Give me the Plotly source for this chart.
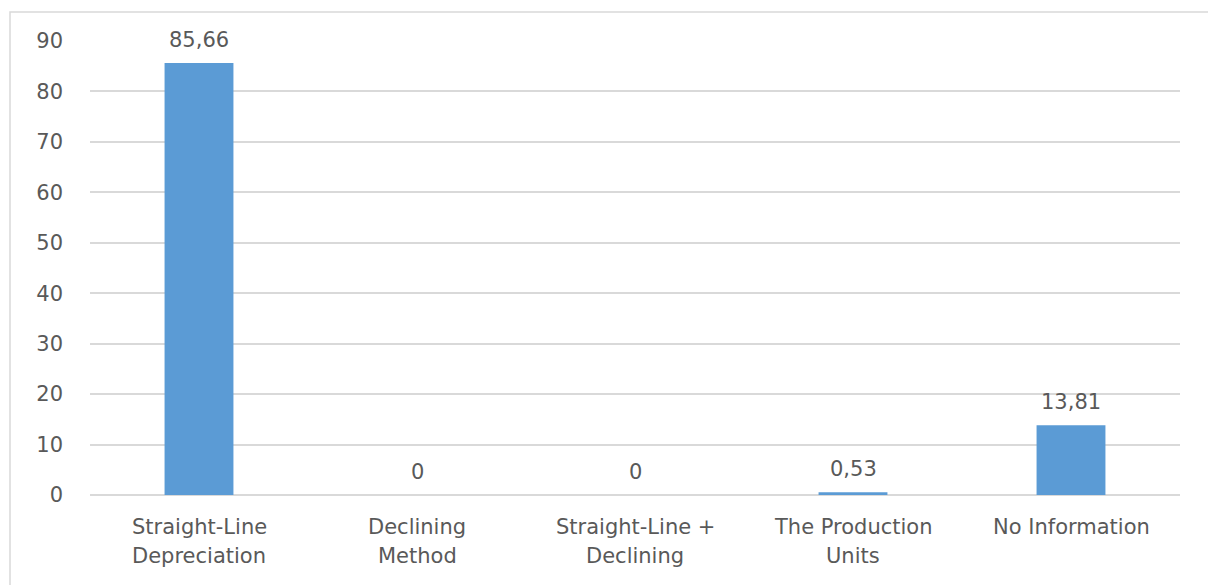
import plotly.graph_objects as go

categories = ["Straight-Line<br>Depreciation", "Declining<br>Method", "Straight-Line +<br>Declining",
              "The Production<br>Units", "No Information"]
values = [85.66, 0, 0, 0.53, 13.81]
value_labels = ["85,66", "0", "0", "0,53", "13,81"]
y_ticks = [0, 10, 20, 30, 40, 50, 60, 70, 80, 90]

text_color = "#595959"
grid_color = "#D9D9D9"
bar_color = "#5B9BD5"
font_family = "DejaVu Sans"
font_size = 21

fig = go.Figure(go.Bar(
    x=categories,
    y=values,
    marker=dict(color=bar_color, line=dict(width=0)),
    width=0.316,
    cliponaxis=False,
))

# value labels placed above each bar
for cat, val, lab in zip(categories, values, value_labels):
    fig.add_annotation(
        x=cat, y=val, text=lab, showarrow=False,
        xanchor="center", yanchor="bottom", yshift=9,
        font=dict(family=font_family, size=font_size, color=text_color),
    )

# category labels, one annotation per line for wider line spacing
for cat in categories:
    for i, line in enumerate(cat.split("<br>")):
        fig.add_annotation(
            x=cat, y=0, text=line, showarrow=False,
            xanchor="center", yanchor="middle", yshift=-32 - 29 * i,
            font=dict(family=font_family, size=font_size, color=text_color),
        )

fig.update_layout(
    width=1208,
    height=585,
    margin=dict(l=90, r=28, t=41, b=90),
    paper_bgcolor="white",
    plot_bgcolor="white",
    showlegend=False,
    font=dict(family=font_family, size=font_size, color=text_color),
    xaxis=dict(
        showgrid=False,
        showline=False,
        ticks="",
        showticklabels=False,
    ),
    yaxis=dict(
        range=[0, 90],
        tickvals=y_ticks,
        showgrid=True,
        gridcolor=grid_color,
        gridwidth=1.5,
        zeroline=True,
        zerolinecolor=grid_color,
        zerolinewidth=1.5,
        showline=False,
        ticks="",
        tickfont=dict(family=font_family, size=font_size, color=text_color),
        ticklabelstandoff=26,
    ),
    shapes=[dict(
        type="rect", xref="paper", yref="paper",
        x0=-80 / 1090, x1=1.2, y0=-0.4, y1=(495 - 12) / 454,
        line=dict(color=grid_color, width=1.5),
        fillcolor="rgba(0,0,0,0)",
        layer="below",
    )],
)

fig.write_html("out.html")
